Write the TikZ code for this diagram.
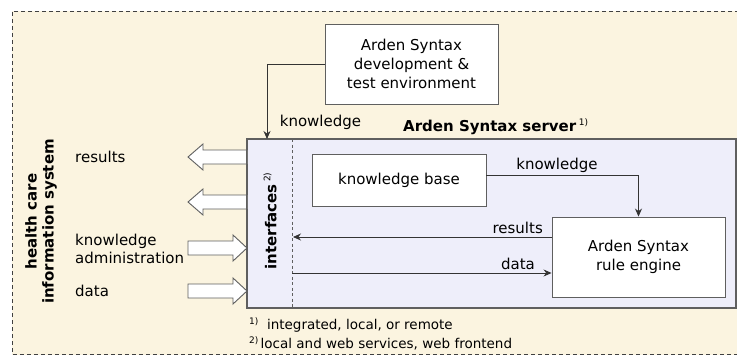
\documentclass[tikz,border=0pt]{standalone}
\usepackage{fontspec}
\setmainfont{DejaVu Sans}
\usetikzlibrary{arrows.meta,calc}
\definecolor{cream}{RGB}{251,244,224}
\definecolor{lavender}{RGB}{238,238,250}
\definecolor{edge}{RGB}{95,95,95}
\begin{document}
\begin{tikzpicture}[x=1pt,y=-1pt,
  every node/.style={font=\fontsize{15}{19}\selectfont, inner sep=0pt},
  box/.style={draw=edge, line width=0.9pt, fill=white, align=center},
  lbl/.style={font=\fontsize{15}{18}\selectfont},
  conn/.style={draw=black!80, line width=0.8pt, -{Stealth[length=8pt,width=7pt]}},
  blockarrow/.style={draw=edge, line width=0.9pt, fill=white, line join=miter},
  sup/.style={font=\fontsize{9}{9}\selectfont}]
\useasboundingbox (0,0) rectangle (737,356);
% health care information system area
\fill[white] (0,0) rectangle (737,356);
\draw[cream, fill=cream] (12,11) rectangle (760,354);
\draw[black!75, line width=0.8pt, dash pattern=on 4pt off 3pt] (760,11) -- (12,11) -- (12,354) -- (760,354);

% development environment
\node[box, minimum width=173pt, minimum height=80pt] (dev) at (411.5,64)
  {Arden Syntax\\development \&\\test environment};

% server
\node[draw=edge, line width=1.2pt, fill=lavender, minimum width=489pt, minimum height=169pt] (server) at (491.5,223.5) {};
\node[font=\bfseries\fontsize{15}{18}\selectfont, anchor=west] (srvtitle) at (403,127)
  {Arden Syntax server\,\raisebox{6pt}{\mdseries\fontsize{9}{9}\selectfont 1)}};
\coordinate (ifTop) at (292,139);
\coordinate (ifBot) at (292,308);
\draw[edge, line width=0.8pt, dash pattern=on 3pt off 2.5pt] (ifTop) -- (ifBot);
\node[rotate=90, font=\bfseries\fontsize{15}{18}\selectfont] (interfaces) at (270,221)
  {interfaces\,\raisebox{6pt}{\mdseries\fontsize{9}{9}\selectfont 2)}};

\node[box, minimum width=174pt, minimum height=52pt] (kb) at (399,180) {knowledge base};
\node[box, minimum width=173pt, minimum height=80pt] (engine) at (638.5,257)
  {Arden Syntax\\rule engine};

% knowledge from the development environment
\coordinate (srvIn) at (267,139);
\draw[conn] (dev.west) -| (srvIn);
\node[lbl] (kdev) at (320.5,122) {knowledge};

% knowledge base to rule engine
\draw[conn] ([yshift=5pt]kb.east) -| (engine.north);
\node[lbl] (kkb) at (557,165) {knowledge};

% results and data between interfaces and engine
\coordinate (resEnd) at (293,237);
\coordinate (dataStart) at (292,273);
\draw[conn] ([yshift=20pt]engine.west) -- (resEnd);
\node[lbl, anchor=east] (lres) at (543,228) {results};
\draw[conn] (dataStart) -- ([yshift=-16pt]engine.west);
\node[lbl] (ldata) at (518,264) {data};

% block arrows to and from the health care information system
\draw[blockarrow] (247,150) -- (203,150) -- (203,144) -- (188,157) -- (203,170) -- (203,164) -- (247,164);
\draw[blockarrow] (247,195) -- (203,195) -- (203,189) -- (188,202) -- (203,215) -- (203,209) -- (247,209);
\draw[blockarrow] (188,241) -- (233,241) -- (233,235) -- (247,248) -- (233,261) -- (233,255) -- (188,255) -- cycle;
\draw[blockarrow] (188,284) -- (233,284) -- (233,278) -- (247,291) -- (233,304) -- (233,298) -- (188,298) -- cycle;
\draw[edge, line width=1.2pt] (server.north west) -- (server.south west);

\node[lbl, anchor=west] (hres) at (75,157) {results};
\node[lbl, anchor=west, align=left, font=\fontsize{15}{18}\selectfont] (hadm) at (75,249) {knowledge\\administration};
\node[lbl, anchor=west] (hdata) at (75,291) {data};

\node[rotate=90, align=center, font=\bfseries\fontsize{15}{17}\selectfont] (his) at (41,221.5)
  {health care\\information system};

% footnotes
\node[anchor=west, font=\fontsize{13.5}{16}\selectfont] (fn1) at (249,325)
  {\raisebox{5pt}{\fontsize{9}{9}\selectfont 1)}\ \ integrated, local, or remote};
\node[anchor=west, font=\fontsize{13.5}{16}\selectfont] (fn2) at (249,343)
  {\raisebox{5pt}{\fontsize{9}{9}\selectfont 2)}\,local and web services, web frontend};
\end{tikzpicture}
\end{document}
